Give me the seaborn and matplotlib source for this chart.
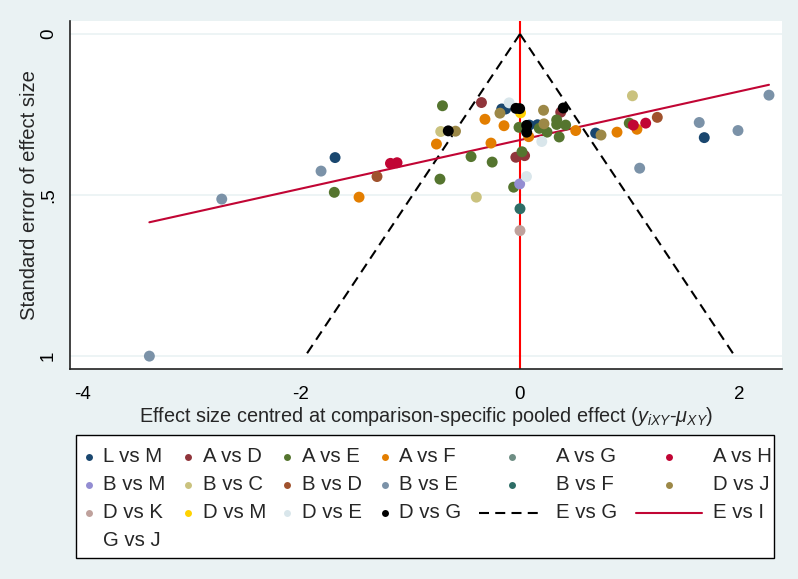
import numpy as np
import pandas as pd
import seaborn as sns
import matplotlib
matplotlib.use("Agg")
import matplotlib.pyplot as plt
from matplotlib.lines import Line2D
from matplotlib.patches import Rectangle

# ---- data (effect centred, standard error) ----
lm_x = [-1.689, -0.167, -0.131, 0.085, 0.160, 0.691, 1.683]
lm_y = [0.384, 0.233, 0.233, 0.283, 0.282, 0.308, 0.322]

ad_x = [-0.352, 0.372, -0.038, 0.042]
ad_y = [0.213, 0.243, 0.383, 0.378]

ae_x = [-0.708, -0.009, 0.335, 0.335, 0.417, 0.176, 0.247, 0.358, 0.998,
        -0.447, -0.254, 0.018, -0.731, -0.058, -1.696]
ae_y = [0.223, 0.290, 0.267, 0.281, 0.283, 0.293, 0.305, 0.320, 0.277,
        0.381, 0.398, 0.366, 0.451, 0.476, 0.492]

af_x = [-0.320, -0.146, 0.080, 0.509, 0.886, 1.068, -0.763, -0.265, -1.470]
af_y = [0.265, 0.285, 0.319, 0.300, 0.305, 0.296, 0.342, 0.339, 0.507]

ag_x = []
ag_y = []

ah_x = [-1.183, -1.123, 1.035, 1.148]
ah_y = [0.402, 0.400, 0.283, 0.277]

bm_x = [-0.003]
bm_y = [0.466]

bc_x = [1.027, -0.724, -0.399]
bc_y = [0.192, 0.303, 0.507]

bd_x = [-1.306, 1.254]
bd_y = [0.443, 0.259]

be_x = [-3.385, -2.724, -1.817, 1.093, 1.637, 1.991, 2.274]
be_y = [1.001, 0.513, 0.426, 0.417, 0.275, 0.300, 0.190]

bf_x = [0.0]
bf_y = [0.543]

dj_x = [-0.589, -0.183, 0.215, 0.219, 0.740]
dj_y = [0.302, 0.246, 0.237, 0.279, 0.314]

dk_x = [0.0]
dk_y = [0.611]

dm_x = [0.005]
dm_y = [0.245]

de_x = [-0.099, 0.199, 0.059]
de_y = [0.214, 0.334, 0.443]

dg_x = [-0.655, -0.037, -0.003, 0.061, 0.061, 0.395]
dg_y = [0.301, 0.231, 0.232, 0.284, 0.305, 0.230]

gj_x = []
gj_y = []

# fitted line (se on centred effect) and funnel limits
reg_intercept = 0.3295
reg_slope = -0.0755
funnel_z = 1.96
funnel_se = [0.0, 1.0]

point_groups = ["L vs M", "A vs D", "A vs E", "A vs F", "A vs G", "A vs H",
                "B vs M", "B vs C", "B vs D", "B vs E", "B vs F", "D vs J",
                "D vs K", "D vs M", "D vs E", "D vs G", "G vs J"]
group_x = [lm_x, ad_x, ae_x, af_x, ag_x, ah_x, bm_x, bc_x, bd_x, be_x, bf_x,
           dj_x, dk_x, dm_x, de_x, dg_x, gj_x]
group_y = [lm_y, ad_y, ae_y, af_y, ag_y, ah_y, bm_y, bc_y, bd_y, be_y, bf_y,
           dj_y, dk_y, dm_y, de_y, dg_y, gj_y]
group_colors = ["#1A476F", "#90353B", "#55752F", "#E37E00", "#6E8E84",
                "#C10534", "#938DD2", "#CAC27E", "#A0522D", "#7B92A8",
                "#2D6D66", "#9C8847", "#BFA19C", "#FFD200", "#D9E6EB",
                "#000000", "none"]

legend_labels = ["L vs M", "A vs D", "A vs E", "A vs F", "A vs G", "A vs H",
                 "B vs M", "B vs C", "B vs D", "B vs E", "B vs F", "D vs J",
                 "D vs K", "D vs M", "D vs E", "D vs G", "E vs G", "E vs I",
                 "G vs J"]

rows = []
for g, xs, ys in zip(point_groups, group_x, group_y):
    for xv, yv in zip(xs, ys):
        rows.append((g, xv, yv))
df = pd.DataFrame(rows, columns=["comparison", "effect", "se"])

# ---- style ----
sns.set_theme(style="white")
plt.rcParams["font.family"] = ["Liberation Sans", "DejaVu Sans"]
plt.rcParams["mathtext.fontset"] = "custom"
plt.rcParams["mathtext.rm"] = "Liberation Sans"
plt.rcParams["mathtext.it"] = "Liberation Sans:italic"
plt.rcParams["axes.unicode_minus"] = False

BG = "#EAF2F3"
W, H = 798, 579
fig = plt.figure(figsize=(W / 100, H / 100), dpi=100, facecolor=BG)
ax = fig.add_axes([70 / W, 1 - 369 / H, 712 / W, 348 / H])
ax.set_facecolor("white")

palette = dict(zip(point_groups, group_colors))
ax.axvline(0, color="#FF0000", lw=1.5, zorder=1.5)

sns.scatterplot(data=df, x="effect", y="se", hue="comparison",
                hue_order=[g for g in point_groups if g in set(df.comparison)],
                palette=palette, s=62, edgecolor="none", linewidth=0,
                legend=False, ax=ax, zorder=3)

se = np.array(funnel_se)
ax.plot(-funnel_z * se, se, color="black", lw=1.5, dashes=(4.8, 3.0), zorder=2.5)
ax.plot(funnel_z * se, se, color="black", lw=1.5, dashes=(4.8, 3.0), zorder=2.5)

xr = np.array([df.effect.min(), df.effect.max()])
ax.plot(xr, reg_intercept + reg_slope * xr, color="#C10534", lw=1.5, zorder=2.6)

ax.set_xlim(-4.11, 2.393)
ax.set_ylim(1.041, -0.0404)
ax.set_xticks([-4, -2, 0, 2])
ax.set_xticklabels(["-4", "-2", "0", "2"])
ax.set_yticks([0, 0.5, 1])
ax.set_yticklabels(["0", ".5", "1"], rotation=90, va="center")
ax.yaxis.grid(True, color=BG, lw=1.2)
ax.xaxis.grid(False)
ax.set_axisbelow(True)

for s in ["top", "right"]:
    ax.spines[s].set_visible(False)
for s in ["left", "bottom"]:
    ax.spines[s].set_color("#222222")
    ax.spines[s].set_linewidth(1.2)
ax.tick_params(axis="both", direction="out", length=8, width=1.2,
               color="#222222", labelsize=13.5, labelcolor="black")
ax.tick_params(axis="x", pad=4)
ax.tick_params(axis="y", pad=1.5)

ax.set_xlabel(r"Effect size centred at comparison-specific pooled effect "
              r"($y_{iXY}$-$\mu_{XY}$)", fontsize=14.3, labelpad=2)
ax.set_ylabel("Standard error of effect size", fontsize=14.6)
ax.yaxis.set_label_coords(-0.043, 0.5)

# ---- legend box, laid out like the Stata key ----
def fx(px):
    return px / W

def fy(py):
    return 1 - py / H

fig.add_artist(Rectangle((fx(76), fy(558)), fx(774) - fx(76), fy(435) - fy(558),
                         transform=fig.transFigure, facecolor="white",
                         edgecolor="black", lw=1.0))

key_x = [89.3, 188.3, 286.7, 385.0, 512.3, 669.0]
text_x = [103.3, 202.7, 302.3, 399.3, 556.0, 712.7]
line_span = [None, None, None, None, (479.3, 543.3), (636.0, 701.7)]
row_y = [456.5, 484.5, 512.5, 540.5]

for i, lab in enumerate(legend_labels):
    r, c = divmod(i, 6)
    yy = fy(row_y[r])
    if lab in point_groups:
        col = palette[lab]
        if col != "none":
            fig.add_artist(Line2D([fx(key_x[c])], [yy], marker="o", ms=5,
                                  color=col, mec="none", ls="none",
                                  transform=fig.transFigure))
    elif lab == "E vs G":
        a, b = line_span[c]
        fig.add_artist(Line2D([fx(a), fx(b)], [yy, yy], color="black", lw=1.5,
                              dashes=(4.8, 3.0), transform=fig.transFigure))
    elif lab == "E vs I":
        a, b = line_span[c]
        fig.add_artist(Line2D([fx(a), fx(b)], [yy, yy], color="#C10534", lw=1.5,
                              transform=fig.transFigure))
    fig.text(fx(text_x[c]), yy, lab, fontsize=14.7, ha="left", va="center")

fig.savefig("out.png", dpi=100, facecolor=BG)
